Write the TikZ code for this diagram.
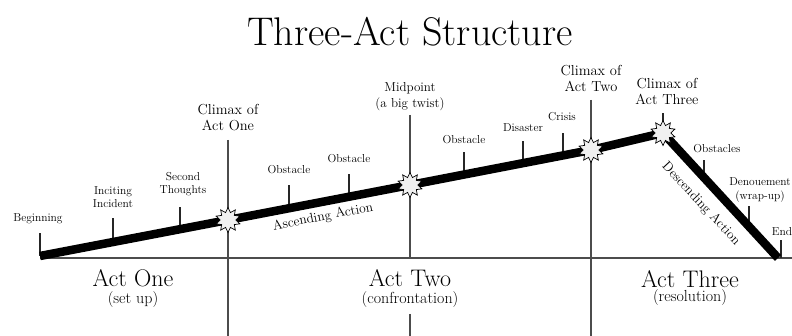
\documentclass[tikz,border=0pt]{standalone}
\usetikzlibrary{shapes.geometric,calc}
\begin{document}
\begin{tikzpicture}[x=1pt,y=-1pt,
  lbl/.style={font=\fontsize{11.5}{13.5}\selectfont, align=center, inner sep=0pt},
  clbl/.style={font=\fontsize{14.5}{16}\selectfont, align=center, inner sep=0pt},
  mlbl/.style={font=\fontsize{13}{16}\selectfont, align=center, inner sep=0pt},
  tickline/.style={line width=1.3pt, draw=black!85},
  actlbl/.style={font=\fontsize{24}{24}\selectfont, inner sep=0pt},
  sublbl/.style={font=\fontsize{16}{16}\selectfont, inner sep=0pt},
  divider/.style={line width=1.6pt, draw=black!70},
  story/.style={line width=8.5pt, draw=black, line join=miter},
  burst/.style={star, star points=10, star point ratio=1.6, minimum size=25pt, inner sep=0pt, draw=black, line width=0.7pt, fill=black!6},
  actionlbl/.style={font=\fontsize{13.5}{14}\selectfont, inner sep=0pt}]
\useasboundingbox (0,0) rectangle (792,336);

% title
\node[font=\fontsize{40}{40}\selectfont] (title) at (410,32) {Three-Act Structure};

% key points
\coordinate (b) at (40,256);
\coordinate (e) at (778,258);
\coordinate (c1p) at (228,220);
\coordinate (mpp) at (410,185);
\coordinate (c2p) at (591,150);
\coordinate (c3p) at (663,133);

% baseline
\coordinate (bl) at (40,258);
\coordinate (br) at (792,258);
\draw[divider, line width=2pt] (bl) -- (br);

% act labels
\node[actlbl] (act1) at (133,278) {Act One};
\node[sublbl] (act1s) at (133,300) {(set up)};
\node[actlbl] (act2) at (410,278) {Act Two};
\node[sublbl] (act2s) at (410,300) {(confrontation)};
\node[actlbl] (act3) at (690,279) {Act Three};
\node[sublbl] (act3s) at (690,298) {(resolution)};

% dividers
\coordinate (d1t) at (228,140);
\coordinate (d1b) at (228,336);
\coordinate (d2t) at (410,115);
\coordinate (d2m) at (410,258);
\coordinate (d2c) at (410,314);
\coordinate (d2b) at (410,336);
\coordinate (d3t) at (591,100);
\coordinate (d3b) at (591,336);
\draw[divider] (d1t) -- (d1b);
\draw[divider] (d2t) -- (d2m);
\draw[divider] (d2c) -- (d2b);
\draw[divider] (d3t) -- (d3b);

% ticks
\draw[tickline] (b) -- ++(0,-23) coordinate (t0);
\draw[tickline] ($(b)!0.1325!(c2p)$) coordinate (t1) -- ++(0,-24);
\draw[tickline] ($(b)!0.254!(c2p)$) coordinate (t2) -- ++(0,-22);
\draw[tickline] ($(b)!0.452!(c2p)$) coordinate (t3) -- ++(0,-23);
\draw[tickline] ($(b)!0.561!(c2p)$) coordinate (t4) -- ++(0,-23);
\draw[tickline] ($(b)!0.7695!(c2p)$) coordinate (t5) -- ++(0,-22);
\draw[tickline] ($(b)!0.8766!(c2p)$) coordinate (t6) -- ++(0,-22);
\draw[tickline] ($(b)!0.949!(c2p)$) coordinate (t7) -- ++(0,-22);
\draw[tickline] (c3p) -- ++(0,-20) coordinate (t8);
\draw[tickline] ($(c3p)!0.3565!(e)$) coordinate (t9) -- ++(0,-18);
\draw[tickline] ($(c3p)!0.748!(e)$) coordinate (t10) -- ++(0,-20);
\coordinate (t11) at (781,258);
\draw[tickline] (t11) -- ++(0,-18);

% story line
\draw[story] (b) -- (c1p) -- (mpp) -- (c2p) -- (c3p) -- (e);

% bursts
\node[burst] (c1) at (c1p) {};
\node[burst] (mp) at (mpp) {};
\node[burst] (c2) at (c2p) {};
\node[burst] (c3) at (c3p) {};

% labels
\node[lbl] (lbeg) at (38,219) {Beginning};
\node[lbl] (linc) at (113,197) {Inciting\\Incident};
\node[lbl] (lsec) at (183,184) {Second\\Thoughts};
\node[clbl] (lc1) at (228,118) {Climax of\\Act One};
\node[lbl] (lob1) at (289,170) {Obstacle};
\node[lbl] (lob2) at (349,159) {Obstacle};
\node[mlbl] (lmid) at (410,97) {Midpoint\\(a big twist)};
\node[lbl] (lob3) at (464,140) {Obstacle};
\node[lbl] (ldis) at (523,128) {Disaster};
\node[lbl] (lcri) at (562,117) {Crisis};
\node[clbl] (lc2) at (591,78) {Climax of\\Act Two};
\node[clbl] (lc3) at (667,91) {Climax of\\Act Three};
\node[lbl] (lobs) at (717,149) {Obstacles};
\node[lbl] (lden) at (760,190) {Denouement\\(wrap-up)};
\node[lbl] (lend) at (782,232) {End};

% action labels
\node[actionlbl, rotate=11] (asc) at (323,217) {Ascending Action};
\node[actionlbl, rotate=-47] (desc) at (701,204) {Descending Action};
\end{tikzpicture}
\end{document}
